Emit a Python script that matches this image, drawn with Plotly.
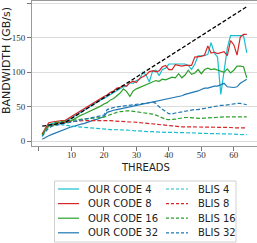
import plotly.graph_objects as go

threads = list(range(1, 65))

our_code_4 = [9, 18, 24, 26, 27, 27, 28, 28,
              31, 34, 37, 40, 43, 46, 48, 51,
              54, 57, 60, 62, 65, 68, 71, 74,
              76, 79, 80, 85, 84, 88, 90, 100,
              96, 86, 102, 103, 95, 104, 106, 112,
              112, 112, 111, 112, 112, 110, 104, 112,
              124, 124, 124, 126, 143, 128, 122, 68,
              105, 135, 153, 153, 153, 153, 153, 128]
our_code_8 = [11, 20, 27, 28, 29, 30, 30, 30,
              33, 36, 39, 42, 45, 48, 51, 54,
              56, 59, 62, 65, 67, 71, 73, 77,
              78, 81, 80, 85, 87, 85, 91, 93,
              96, 101, 102, 101, 102, 108, 110, 104,
              104, 111, 110, 109, 110, 110, 110, 122,
              122, 123, 125, 138, 128, 129, 127, 128,
              130, 124, 146, 140, 125, 151, 155, 155]
our_code_16 = [8, 17, 22, 23, 24, 25, 25, 26,
               28, 30, 33, 35, 38, 40, 42, 44,
               46, 48, 51, 54, 56, 60, 62, 66,
               70, 76, 72, 65, 73, 76, 78, 80,
               82, 84, 85, 88, 87, 90, 89, 91,
               93, 92, 98, 92, 96, 103, 97, 99,
               104, 98, 104, 106, 104, 105, 103, 102,
               100, 105, 99, 103, 109, 109, 108, 92]
our_code_32 = [3, 6, 8, 10, 12, 14, 16, 17,
               19, 21, 22, 24, 25, 26, 28, 29,
               31, 32, 34, 36, 42, 44, 45, 46,
               47, 48, 49, 50, 51, 51, 52, 53,
               55, 55, 56, 57, 59, 60, 61, 62,
               63, 64, 65, 66, 68, 69, 70, 72,
               73, 75, 77, 77, 79, 80, 80, 82,
               84, 79, 78, 78, 79, 84, 87, 90]
blis_4 = [9, 17, 23, 26, 26, 25, 24, 23,
          22.5, 22, 21.5, 21, 20.5, 20, 19.5, 19,
          18.5, 18, 18, 17.5, 17.5, 17, 17, 17,
          17, 16.5, 16, 16, 15.5, 15, 14.5, 14,
          14, 14, 14, 13.5, 13.5, 13.5, 13, 13,
          13, 12.5, 12.5, 12.5, 12, 12, 12, 12,
          12, 11.5, 11.5, 11.5, 11, 11, 11, 11,
          11, 10.5, 10.5, 10.5, 10, 10, 10, 9.5]
blis_8 = [10, 18, 22, 24, 26, 27, 27.5, 28,
          28.5, 29, 29, 29.5, 29.5, 30, 30, 30,
          30.5, 30.5, 31, 31, 30.5, 30, 29.5, 29,
          28.5, 28, 28, 28, 28, 27.5, 27.5, 27,
          27, 26.5, 26, 25, 24, 23.5, 23, 22.5,
          22, 21.5, 21.5, 21, 21, 21, 21, 20.5,
          20.5, 20.5, 20.5, 20, 20, 20, 20, 20,
          20, 20, 20, 19.5, 19.5, 19.5, 19.5, 19.5]
blis_16 = [9, 17, 22, 25, 27, 28, 29, 29.5,
           30, 30.5, 31, 31.5, 32, 32, 32.5, 33,
           33, 33.5, 34, 35, 37, 39, 41, 42,
           43, 44, 44, 44, 43.5, 43, 42, 41,
           40.5, 40, 39.5, 38, 36, 34, 32, 31.5,
           31.5, 32, 33, 34, 34.5, 34.5, 34, 33.5,
           33, 33, 33.5, 34, 34.5, 35, 35.5, 35.5,
           35.5, 35.5, 35.5, 35.5, 35.5, 35.5, 35.5, 35.5]
blis_32 = [7, 14, 19, 22, 23, 24, 25, 25.5,
           26.5, 27.5, 28.5, 29.5, 30.5, 31.5, 32, 33,
           34, 35, 36, 38, 46, 48, 49, 50,
           50.5, 51, 51.5, 52, 53, 53.5, 54, 55,
           55.5, 56, 57, 55, 50, 46, 43, 40,
           39.5, 41, 42, 43, 44, 45, 45, 46,
           46, 47, 48, 49, 50, 50, 51, 52,
           52, 53, 54, 55, 55, 55, 54, 53]

ideal_threads = [1, 8, 16, 32, 48, 64]
ideal_values = [22, 27, 51, 99, 147, 195]

x_tick_vals = [0, 10, 20, 30, 40, 50, 60]
x_tick_text = ["", "10", "20", "30", "40", "50", "60"]
y_tick_vals = [0, 50, 100, 150, 200]

series = [
    ("OUR CODE 4", our_code_4, "#17becf", "solid"),
    ("OUR CODE 8", our_code_8, "#d62728", "solid"),
    ("OUR CODE 16", our_code_16, "#2ca02c", "solid"),
    ("OUR CODE 32", our_code_32, "#1f77b4", "solid"),
    ("BLIS 4", blis_4, "#17becf", "4px,2px"),
    ("BLIS 8", blis_8, "#d62728", "4px,2px"),
    ("BLIS 16", blis_16, "#2ca02c", "4px,2px"),
    ("BLIS 32", blis_32, "#1f77b4", "4px,2px"),
]

fig = go.Figure()
for name, vals, col, dash in series:
    fig.add_trace(go.Scatter(x=threads, y=vals, mode="lines", name=name,
                             line=dict(color=col, width=1.2, dash=dash),
                             showlegend=False))
fig.add_trace(go.Scatter(x=ideal_threads, y=ideal_values, mode="lines",
                         name="ideal", line=dict(color="black", width=1.3, dash="4px,2px"),
                         showlegend=False))

W, H = 257, 243
ML, MR, MT, MB = 32, 0, 1, 97
PW, PH = W - ML - MR, H - MT - MB

def px(xp):
    return (xp - ML) / PW

def py(yp):
    return (H - MB - yp) / PH

shapes = []
annotations = []
# legend box
shapes.append(dict(type="rect", xref="paper", yref="paper",
                   x0=px(54.5), x1=px(236), y0=py(181), y1=py(242),
                   line=dict(color="#d0d0d0", width=1), fillcolor="white", layer="above"))
rows = [189, 203.6, 218.2, 232.8]
for i, (name, vals, col, dash) in enumerate(series):
    col_idx = i // 4
    r = rows[i % 4]
    lx0, lx1, tx = (58, 79, 86) if col_idx == 0 else (166, 188, 196)
    shapes.append(dict(type="line", xref="paper", yref="paper",
                       x0=px(lx0), x1=px(lx1), y0=py(r), y1=py(r),
                       line=dict(color=col, width=1.2,
                                 dash="solid" if dash == "solid" else "3px,2px"),
                       layer="above"))
    annotations.append(dict(text=name, xref="paper", yref="paper", x=px(tx), y=py(r),
                            xanchor="left", yanchor="middle", showarrow=False,
                            font=dict(family="DejaVu Sans", size=10, color="#222")))

annotations.append(dict(text="THREADS", xref="paper", yref="paper", x=px(145), y=py(167),
                        xanchor="center", yanchor="middle", showarrow=False,
                        font=dict(family="DejaVu Sans", size=10, color="#222")))
annotations.append(dict(text="BANDWIDTH (GB/s)", xref="paper", yref="paper", x=px(6), y=py(61),
                        xanchor="center", yanchor="middle", showarrow=False, textangle=-90,
                        font=dict(family="DejaVu Sans", size=11, color="#222")))

axis_common = dict(showline=True, mirror=True, linecolor="#999", linewidth=1,
                   ticks="outside", ticklen=4, tickcolor="#777", tickwidth=1,
                   tickfont=dict(family="Liberation Serif", size=9, color="#333"),
                   zeroline=False)

fig.update_layout(
    width=W, height=H,
    margin=dict(l=ML, r=MR, t=MT, b=MB),
    paper_bgcolor="white", plot_bgcolor="white",
    showlegend=False,
    xaxis=dict(range=[-2.15, 67.15], tickvals=x_tick_vals, ticktext=x_tick_text,
               showgrid=False, ticklabelstandoff=-4, **axis_common),
    yaxis=dict(range=[-6.8, 203.3], tickvals=y_tick_vals, showgrid=True,
               gridcolor="#dcdcdc", gridwidth=1, **axis_common),
    shapes=shapes, annotations=annotations,
)

fig.write_html("out.html")
